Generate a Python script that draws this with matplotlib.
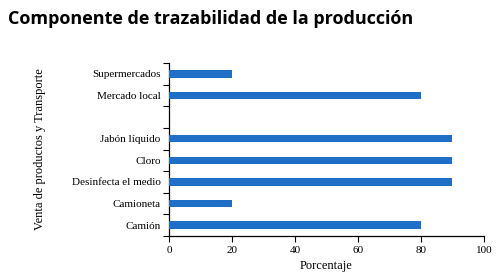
import matplotlib
matplotlib.use("Agg")
import matplotlib.pyplot as plt
import numpy as np

categories = ["Camión", "Camioneta", "Desinfecta el medio", "Cloro", "Jabón líquido", "", "Mercado local", "Supermercados"]
values = [80, 20, 90, 90, 90, 0, 80, 20]
xticks = [0, 20, 40, 60, 80, 100]

fig = plt.figure(figsize=(5.03, 2.80), dpi=100)
ax = fig.add_axes([0.336, 0.157, 0.626, 0.618])
y = np.arange(len(categories))
ax.barh(y, values, height=0.35, color="#1f6fc6", zorder=3)
ax.set_ylim(-0.5, len(categories) - 0.5)
ax.set_xlim(0, 100)
ax.set_yticks(y)
ax.set_yticklabels(categories, family="Liberation Serif", fontsize=8)
ax.set_yticks(np.arange(-0.5, len(categories), 1.0), minor=True)
ax.tick_params(axis="y", which="major", length=0, pad=6)
ax.tick_params(axis="y", which="minor", length=4, direction="out", width=0.8)
ax.set_xticks(xticks)
ax.set_xticklabels([str(v) for v in xticks], family="Liberation Serif", fontsize=8)
ax.tick_params(axis="x", length=4, direction="out", width=0.8, pad=3)
for s in ["top", "right"]:
    ax.spines[s].set_visible(False)
for s in ["left", "bottom"]:
    ax.spines[s].set_linewidth(0.9)
ax.set_xlabel("Porcentaje", family="Liberation Serif", fontsize=9, labelpad=4)
ax.set_ylabel("Venta de productos y Transporte", family="Liberation Serif", fontsize=9, labelpad=4)
ax.yaxis.set_label_coords(-0.392, 0.5)
fig.text(0.016, 0.932, "Componente de trazabilidad de la producción", family="Open Sans",
         fontweight="bold", fontsize=13, va="center", ha="left")
fig.savefig("out.png", dpi=100)
